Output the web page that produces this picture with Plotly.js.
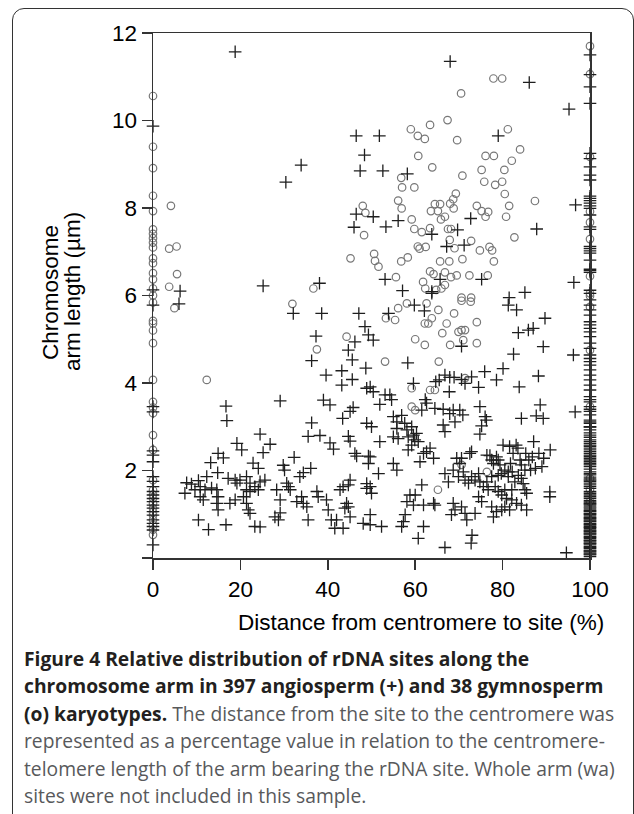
<!DOCTYPE html>
<html><head><meta charset="utf-8">
<script src="https://cdn.plot.ly/plotly-3.0.1.min.js"></script>
<style>
html,body{margin:0;padding:0;background:#fff;}
#wrap{position:relative;width:634px;height:814px;overflow:hidden;background:#fff;}
#chart{position:absolute;left:0;top:0;width:634px;height:814px;}
#frame{position:absolute;left:12px;top:8px;width:622px;height:840px;box-sizing:border-box;border:1.5px solid #333;border-radius:12px;pointer-events:none;}
</style></head>
<body><div id="wrap"><div id="chart"></div><div id="frame"></div></div>
<script>
// ---------- DATA ----------
// Angiosperm sites (+), interior points
const angioX = [18.8,46.5,48.4,47.4,33.9,30.4,46.5,46.0,25.2,38.1,6.2,
68.0,86.1,95.2,51.8,52.6,58.2,79.0,50.4,53.3,56.1,63.8,69.7,72.7,67.2,71.2,87.8,96.7,96.3,53.1,65.7,75.2,57.1,63.8,85.1,81.5,
5.95,32.1,38.6,47.1,48.5,49.3,37.3,46.2,44.7,45.6,36.3,48.7,39.6,43.2,45.6,43.2,48.9,29.1,39.0,40.5,45.8,45.1,16.7,16.9,43.4,36.3,48.9,24.5,35.5,38.2,40.5,41.3,44.7,45.1,19.2,20.3,26.8,25.2,46.2,46.6,49.3,14.9,16.1,13.2,22.9,24.1,32.3,29.8,30.1,34.4,33.6,36.1,45.1,44.7,14.8,
7.7,8.8,7.3,10.4,10.8,11.9,12.3,13.4,14.6,14.9,14.6,14.9,17.2,18.8,19.2,19.9,21.4,22.2,23.3,24.1,24.5,25.6,21.4,22.2,20.7,18.8,17.6,11.5,10.8,9.6,21.4,21.8,22.2,10.4,12.7,16.7,23.3,24.5,27.9,28.7,29.1,28.3,29.1,30.6,31.4,31.0,34.0,34.4,35.2,35.5,32.9,37.5,37.8,39.7,40.1,40.8,41.6,42.0,43.5,42.8,43.5,44.3,44.7,45.1,43.9,48.1,48.9,
63.8,59.8,62.1,53.9,81.3,83.2,89.7,87.0,85.9,83.6,50.4,89.3,70.6,82.5,96.2,58.3,
66.8,67.9,68.9,65.5,64.7,70.6,72.9,75.9,78.6,80.1,88.2,83.8,74.5,71.4,59.6,67.8,49.7,50.4,53.1,54.2,54.6,51.9,
62.3,62.6,61.5,64.5,66.4,67.9,68.7,70.2,70.9,69.1,74.8,76.0,76.3,75.2,74.8,66.4,66.8,88.6,84.3,87.7,89.3,
55.0,55.8,55.8,56.9,57.6,58.1,59.2,59.6,60.3,59.9,60.7,58.4,59.2,56.1,55.0,51.9,50.0,
63.4,64.2,62.6,61.9,61.1,58.4,55.0,55.8,51.6,49.7,49.3,50.0,49.7,52.3,
72.9,72.5,69.5,76.4,77.1,77.5,78.6,79.0,77.9,79.4,80.5,81.3,79.7,79.0,
80.1,81.6,83.1,83.5,82.4,87.1,85.3,86.0,86.8,88.3,89.4,90.9,89.0,87.5,86.4,
84.0,84.3,85.1,83.6,84.3,84.7,85.5,85.1,81.8,82.2,81.3,82.8,82.1,90.8,90.8,70.6,70.2,
66.8,67.6,68.7,69.9,71.0,71.4,72.2,72.9,73.7,74.5,74.8,75.6,76.4,76.7,77.5,78.3,79.0,79.8,80.5,80.9,82.1,83.2,84.3,85.5,
61.5,58.8,58.1,59.6,60.0,64.2,64.5,61.9,57.7,57.3,61.9,60.7,
68.7,69.1,68.3,70.6,71.8,71.4,73.7,74.5,75.2,77.5,77.9,78.6,79.8,80.5,81.6,
73.0,72.8,66.8,94.6,96.6,48.9,49.7,49.7,56.9];
const angioY = [11.57,9.65,9.21,8.85,8.98,8.59,7.86,7.56,6.22,6.28,6.10,
11.35,10.87,10.26,9.65,8.85,8.78,9.65,7.80,7.57,7.71,7.40,7.50,7.76,7.12,7.15,7.52,8.07,6.30,6.37,6.37,6.37,6.11,6.09,6.07,5.95,
5.81,5.59,5.59,5.59,5.29,5.10,5.07,4.94,4.75,4.53,4.51,4.34,4.18,4.28,4.08,3.95,3.88,3.59,3.61,3.50,3.44,3.35,3.47,3.14,3.19,3.09,3.08,2.83,2.78,2.80,2.63,2.49,2.78,2.67,2.62,2.47,2.60,2.41,2.39,2.33,2.33,2.39,2.29,2.18,2.17,2.05,2.30,2.12,2.01,1.95,1.86,2.05,1.78,1.67,1.95,
1.72,1.69,1.48,1.77,1.63,1.56,1.86,1.60,1.56,1.40,1.25,1.10,1.82,1.78,1.71,1.78,1.86,1.71,1.63,1.56,1.74,1.78,1.56,1.52,1.40,1.33,1.25,1.33,1.40,1.56,1.25,1.10,1.02,0.87,0.65,0.76,0.72,0.71,0.94,0.87,1.03,1.56,1.33,1.71,1.56,1.63,1.40,1.25,1.17,0.87,1.29,1.52,1.40,1.33,1.10,0.87,0.68,0.87,0.68,1.56,1.63,1.25,1.17,0.94,1.14,0.79,1.59,
6.05,5.78,5.65,5.59,5.78,5.67,5.48,5.25,5.21,5.15,4.98,4.83,4.84,4.66,4.64,4.46,
4.18,4.13,4.13,4.07,4.03,4.08,4.14,4.26,4.07,4.33,4.16,3.91,3.90,3.99,3.99,3.80,3.91,3.80,3.73,3.73,3.62,3.51,
3.62,3.54,3.38,3.42,3.40,3.30,3.38,3.38,3.27,3.11,3.46,3.23,3.15,3.02,2.83,3.04,2.89,3.50,3.19,3.25,3.19,
3.23,3.11,2.96,3.26,3.08,2.93,3.00,2.81,2.85,2.70,2.66,2.77,2.58,2.73,2.77,2.66,3.00,
2.51,2.28,2.43,2.39,2.20,2.47,2.16,2.01,1.93,2.31,2.16,1.48,0.76,0.72,
2.43,2.39,2.28,2.35,2.34,2.24,2.31,2.24,2.16,2.13,2.01,1.97,1.93,1.89,
2.58,2.55,2.58,2.51,2.39,2.66,2.39,2.24,2.31,2.39,2.28,2.47,2.09,2.05,2.01,
2.24,2.13,2.01,1.89,1.82,1.70,1.48,1.56,2.16,1.97,1.86,1.74,1.56,1.51,1.40,2.28,2.16,
1.93,1.74,2.01,1.86,1.97,1.78,1.71,1.86,1.78,1.93,1.74,1.63,1.74,1.56,1.86,1.63,1.52,1.44,1.56,1.36,1.33,1.25,1.21,1.10,
1.67,1.44,1.29,1.21,1.44,1.25,1.21,1.21,0.99,0.83,0.72,0.45,
1.25,1.10,0.99,1.17,0.87,1.02,1.02,1.40,1.29,1.17,0.94,1.06,1.10,1.17,1.10,
0.52,0.34,0.24,0.12,3.34,1.70,1.63,0.99,0.72];
// Angiosperm sites lying at the centromere (0 %) and at the telomere (100 %)
const angioAt0Y = [9.87,6.13,5.78,3.46,3.34,2.45,2.35,2.20,1.86,1.75,1.63,1.52,1.44,1.36,1.29,1.21,1.14,1.06,0.98,0.87,0.79,0.72,0.64,0.30];
const angioAt100Y = [11.50,11.05,10.77,10.39,9.25,9.13,8.94,8.75,8.64,8.27,8.22,8.17,8.11,8.05,7.99,7.84,7.57,7.51,7.12,7.07,7.02,6.97,6.81,6.60,6.57,6.53,6.12,6.05,
5.90,5.78,5.67,5.55,5.40,5.33,5.25,5.17,5.06,4.91,4.79,4.64,4.56,4.49,4.41,4.30,4.18,4.07,3.95,3.84,3.69,3.57,3.46,3.35,3.27,3.15,3.08,3.00,2.93,2.81,2.70,2.62,2.55,2.47,2.39,2.32,2.24,2.16,2.09,1.97,1.90,1.78,1.71,1.63,1.48,1.36,1.25,1.17,1.10,1.02,0.94,0.87,0.79,0.72,0.64,0.57,0.49,0.41,0.34,0.26,0.18,0.11,0.03,
2.86,2.76,2.66,2.51,2.43,2.28,2.20,2.13,1.85,1.75,1.67,1.44,1.31,1.21,1.06,0.98,0.90,0.83,0.75,0.68,0.60,0.53,0.45,0.37,0.30,0.22,0.14,0.07,
0.09,0.16,0.24,0.33,0.40,0.47,0.55,0.62,0.70,0.77,0.85,0.92,1.00,1.08,1.14,1.23,1.28,1.40,1.52,1.59,1.81,1.93,2.03,2.35,2.58,2.99,3.11,3.40,3.62];
// Gymnosperm sites (o), interior points
const gymnoX = [4.1,3.7,5.4,5.5,3.7,36.7,45.2,48.0,48.6,48.3,4.9,31.9,44.3,37.5,12.3,
77.9,79.9,70.5,67.4,63.4,59.0,60.6,62.2,69.6,81.2,84.0,76.1,78.0,82.1,60.7,63.9,70.8,75.2,80.4,56.8,57.0,59.8,75.8,78.3,79.9,80.5,69.3,68.7,68.0,56.1,56.9,87.4,81.5,64.5,65.7,63.6,65.2,74.1,75.2,76.7,76.1,80.8,68.8,66.8,65.9,59.2,59.8,61.5,67.5,68.2,63.4,82.7,72.8,60.6,61.0,62.4,67.9,69.0,74.8,77.0,77.6,50.6,50.8,51.6,56.8,58.3,65.7,67.8,70.8,78.0,63.4,64.2,66.8,68.2,69.5,72.4,76.6,55.6,61.8,66.8,66.0,64.8,62.3,70.6,72.8,
53.3,55.4,56.1,58.1,62.6,63.0,62.2,65.3,63.8,70.6,72.7,68.9,67.2,71.4,69.9,70.6,71.0,74.1,74.1,68.0,62.2,60.0,66.2,53.1,65.4,59.2,63.4,64.5,71.4,59.2,60.0,70.6,76.4,65.2];
const gymnoY = [8.05,7.07,7.12,6.49,6.20,6.16,6.85,8.05,7.89,7.38,5.71,5.81,5.06,4.77,4.07,
10.96,10.96,10.62,10.01,9.90,9.80,9.65,9.58,9.55,9.80,9.34,9.19,9.19,9.08,9.19,8.93,8.74,8.87,8.87,8.69,8.47,8.47,8.60,8.53,8.60,8.32,8.33,8.20,8.10,8.17,7.99,8.16,8.05,8.09,8.09,7.93,7.93,8.05,7.93,7.91,7.80,7.80,7.99,7.80,7.74,7.74,7.52,7.45,7.52,7.52,7.54,7.33,7.25,7.12,7.07,7.11,7.27,7.08,7.03,7.11,7.03,6.95,6.79,6.66,6.78,6.87,6.78,6.78,6.83,6.78,6.55,6.49,6.53,6.42,6.46,6.46,6.46,6.42,6.31,6.24,6.16,6.13,6.16,5.95,5.95,
5.48,5.44,5.71,5.82,5.82,5.36,5.36,5.67,5.48,5.88,5.86,5.59,5.36,5.21,5.17,5.21,4.98,5.39,4.91,4.87,4.87,5.00,5.14,4.49,4.49,3.88,3.84,3.84,4.11,3.46,3.38,2.13,1.97,1.56];
// Gymnosperm sites at 0 % and 100 %
const gymnoAt0Y = [10.56,9.40,8.91,8.28,7.93,7.51,7.41,7.31,7.21,7.10,6.85,6.74,6.51,6.37,6.16,6.00,5.84,5.42,5.36,5.20,4.91,4.07,3.57,3.44,3.31,2.81,2.47,1.78,1.55,1.45,1.36,1.25,1.14,1.05,0.98,0.87,0.76,0.65,0.53];
const gymnoAt100Y = [11.70,11.06,9.17,7.92,7.67,7.29,6.44,6.05,5.99,5.74,4.75,3.46,1.82,1.56,1.29];
// Axis ticks
const xTickVals = [0,20,40,60,80,100];
const yTickVals = [0,2,4,6,8,10,12];
const yTickText = ['','2','4','6','8','10','12'];

// ---------- BUILD ----------
const aX = angioX.concat(angioAt0Y.map(()=>0), angioAt100Y.map(()=>100));
const aY = angioY.concat(angioAt0Y, angioAt100Y);
const gX = gymnoX.concat(gymnoAt0Y.map(()=>0), gymnoAt100Y.map(()=>100));
const gY = gymnoY.concat(gymnoAt0Y, gymnoAt100Y);

const traces = [
  {type:'scatter', mode:'markers', x:gX, y:gY, cliponaxis:false, hoverinfo:'skip',
   marker:{symbol:'circle-open', size:7.5, color:'#777', line:{width:1.2, color:'#777'}}},
  {type:'scatter', mode:'markers', x:aX, y:aY, cliponaxis:false, hoverinfo:'skip',
   marker:{symbol:'cross-thin-open', size:9, color:'#1e1e1e', line:{width:1.3, color:'#1e1e1e'}}}
];

const W=634, H=814, L=153, R=590, T=33, B=558;
const pw=R-L, ph=B-T;
const px = v => (v-L)/pw;
const py = v => (B-v)/ph;
const axFont = {family:'"Liberation Sans", Arial, sans-serif', size:22.5, color:'#000'};
const capFamily = '"Open Sans"';
const dark = '#231f20', grey = '#58595b';

// caption: each line given as [bold part, regular part]
const capParts = [
  ['Figure 4 Relative distribution of rDNA sites along the', ''],
  ['chromosome arm in 397 angiosperm (+) and 38 gymnosperm', ''],
  ['(o) karyotypes.', ' The distance from the site to the centromere was'],
  ['', 'represented as a percentage value in relation to the centromere-'],
  ['', 'telomere length of the arm bearing the rDNA site. Whole arm (wa)'],
  ['', 'sites were not included in this sample.']
];
const capLeft = 22;
const capRight = [505, 615, 613, 613, 612, 363];
const capY = [658, 685.5, 713, 740.5, 768, 795.5];
const ctx = document.createElement('canvas').getContext('2d');
function measure(b, r, s){
  let w = 0;
  ctx.font = `bold ${s}px ${capFamily}`; w += ctx.measureText(b).width;
  ctx.font = `${s}px ${capFamily}`; w += ctx.measureText(r).width;
  return w;
}
// one common size: the median of the sizes that fit each line to its width in the figure
const fitted = capParts.map((p,i)=> 19 * (capRight[i]-capLeft) / measure(p[0], p[1], 19)).sort((a,b)=>a-b);
let capSize = (fitted[2] + fitted[3]) / 2;
capSize = Math.max(17.5, Math.min(20.5, capSize));
const annotations = capParts.map((p,i)=>{
  let t = '';
  if (p[0]) t += `<b>${p[0]}</b>`;
  if (p[1]) t += `<span style="color:${grey}">${p[1]}</span>`;
  return {xref:'paper', yref:'paper', x:px(capLeft), y:py(capY[i]), xanchor:'left', yanchor:'middle',
    showarrow:false, text:t, font:{family:capFamily, size:capSize, color:dark}};
});
annotations.push({xref:'paper', yref:'paper', x:px(606), y:py(622), xanchor:'right', yanchor:'middle',
  showarrow:false, text:'Distance from centromere to site (%)', font:axFont});
annotations.push({xref:'paper', yref:'paper', x:px(50), y:py(293), xanchor:'center', yanchor:'middle', textangle:-90,
  showarrow:false, text:'Chromosome', font:axFont});
annotations.push({xref:'paper', yref:'paper', x:px(72), y:py(292), xanchor:'center', yanchor:'middle', textangle:-90,
  showarrow:false, text:'arm length (µm)', font:axFont});

const axCommon = {ticks:'outside', ticklen:10, tickwidth:1.5, tickcolor:'#333', showline:true, linecolor:'#333',
  linewidth:1.5, mirror:true, showgrid:false, zeroline:false, tickfont:axFont, fixedrange:true, automargin:false};
const layout = {
  width:W, height:H, margin:{l:L, r:W-R, t:T, b:H-B, pad:0},
  paper_bgcolor:'rgba(0,0,0,0)', plot_bgcolor:'rgba(0,0,0,0)', showlegend:false, hovermode:false,
  xaxis:Object.assign({range:[0,100], tickmode:'array', tickvals:xTickVals}, axCommon),
  yaxis:Object.assign({range:[0,12], tickmode:'array', tickvals:yTickVals, ticktext:yTickText}, axCommon),
  annotations:annotations
};
Plotly.newPlot('chart', traces, layout, {displayModeBar:false, staticPlot:true});
</script></body></html>
